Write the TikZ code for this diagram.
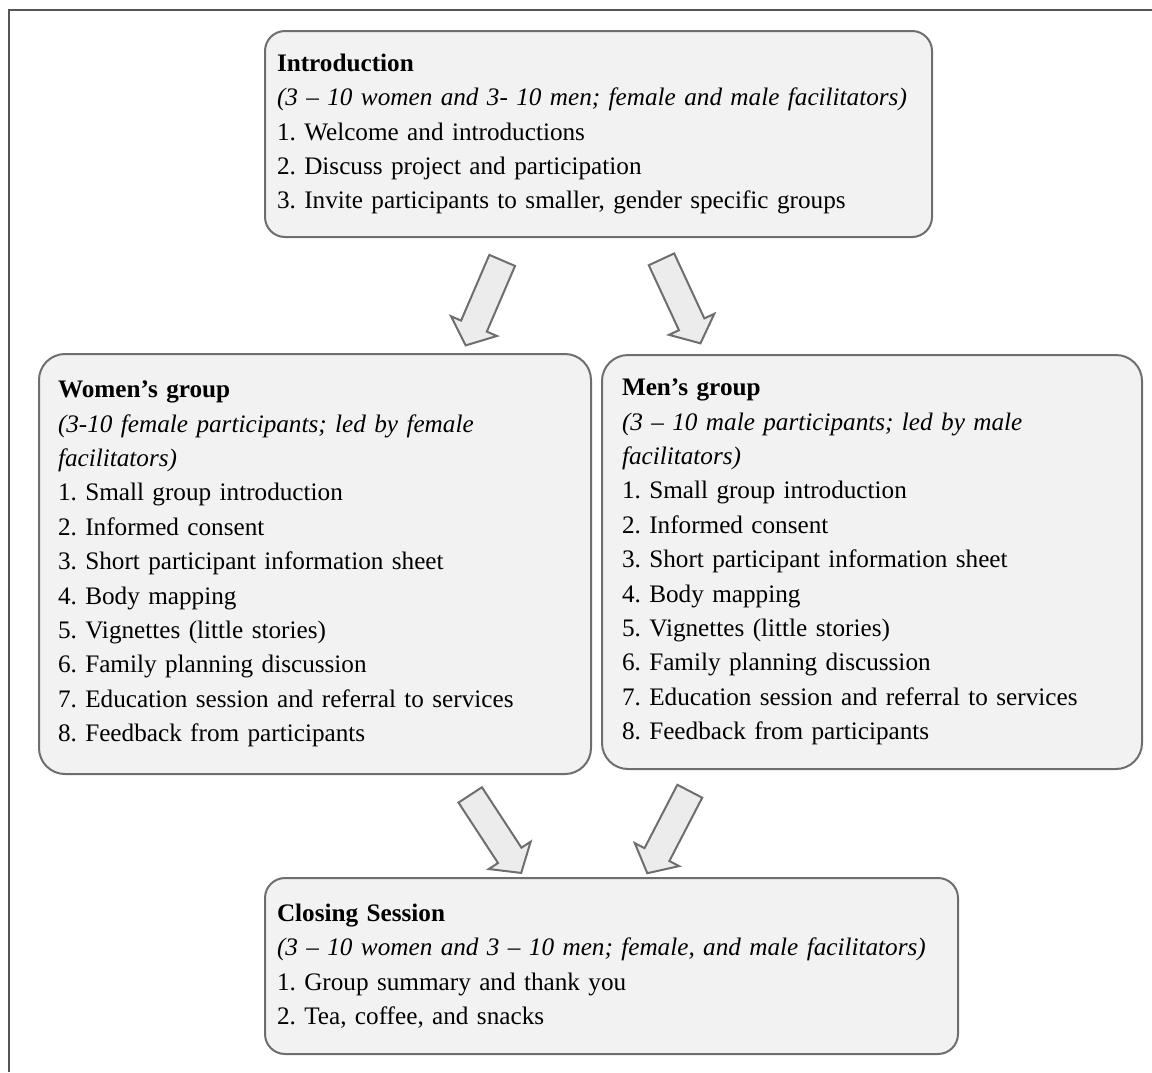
\documentclass[tikz,border=0pt]{standalone}
\usepackage{fontspec}
\setmainfont{Liberation Serif}
\usetikzlibrary{shapes.arrows,calc}
\frenchspacing

\definecolor{boxline}{HTML}{6E6E6E}
\definecolor{boxfill}{HTML}{F2F2F2}
\definecolor{arrowfill}{HTML}{ECECEC}
\definecolor{framegray}{HTML}{555555}

\tikzset{
    stagebox/.style={draw=boxline, fill=boxfill, line width=1pt, anchor=north west,
        align=left, inner ysep=0pt, font=\fontsize{12.6}{17.2}\selectfont},
    bigarrow/.style={single arrow, draw=boxline, fill=arrowfill, line width=1pt,
        inner sep=6.5pt, single arrow head extend=5.5pt, single arrow tip angle=100,
        anchor=center}
}

\newcommand{\flowarrow}[3]{%
    \path let \p1=(#2), \p2=(#3), \n1={atan2(\y2-\y1,\x2-\x1)},
        \n2={veclen(\x2-\x1,\y2-\y1)} in
        node[bigarrow, rotate=\n1, minimum height=\n2] (#1) at ($(#2)!0.5!(#3)$) {};}

\begin{document}
\begin{tikzpicture}[x=0.5pt,y=-0.5pt]
                \useasboundingbox (0,0) rectangle (1152,1072);
                \draw[framegray, line width=1pt]
                    (8.5,1072) -- (8.5,9.5) -- (1152,9.5);

                \node[stagebox, rounded corners=10pt, minimum width=333.5pt, minimum height=103pt,
                      text width=321.5pt, inner xsep=6pt] (intro) at (264,30)
                    {\textbf{Introduction}\\
                     \textit{(3 – 10 women and 3- 10 men; female and male facilitators)}\\
                     1. Welcome and introductions\\
                     2. Discuss project and participation\\
                     3. Invite participants to smaller, gender specific groups};

                \node[stagebox, rounded corners=13pt, minimum width=276pt, minimum height=210pt,
                      text width=257pt, inner xsep=9.5pt] (women) at (38,353)
                    {\textbf{Women’s group}\\
                     \textit{(3-10 female participants; led by female}\\
                     \textit{facilitators)}\\
                     1. Small group introduction\\
                     2. Informed consent\\
                     3. Short participant information sheet\\
                     4. Body mapping\\
                     5. Vignettes (little stories)\\
                     6. Family planning discussion\\
                     7. Education session and referral to services\\
                     8. Feedback from participants};

                \node[stagebox, rounded corners=13pt, minimum width=270pt, minimum height=207pt,
                      text width=250pt, inner xsep=10pt] (men) at (601,354)
                    {\textbf{Men’s group}\\
                     \textit{(3 – 10 male participants; led by male}\\
                     \textit{facilitators)}\\
                     1. Small group introduction\\
                     2. Informed consent\\
                     3. Short participant information sheet\\
                     4. Body mapping\\
                     5. Vignettes (little stories)\\
                     6. Family planning discussion\\
                     7. Education session and referral to services\\
                     8. Feedback from participants};

                \node[stagebox, rounded corners=10pt, minimum width=346.5pt, minimum height=88pt,
                      text width=334.5pt, inner xsep=6pt] (closing) at (264,877)
                    {\textbf{Closing Session}\\
                     \textit{(3 – 10 women and 3 – 10 men; female, and male facilitators)}\\
                     1. Group summary and thank you\\
                     2. Tea, coffee, and snacks};

                \coordinate (introW) at (504.5,255);
                \coordinate (womenN) at (468,340);
                \coordinate (introM) at (659,254);
                \coordinate (menN) at (698,338);
                \coordinate (womenS) at (467,790);
                \coordinate (closingW) at (518,868);
                \coordinate (menS) at (692.5,786);
                \coordinate (closingM) at (650,868);

                \flowarrow{toWomen}{introW}{womenN}
                \flowarrow{toMen}{introM}{menN}
                \flowarrow{fromWomen}{womenS}{closingW}
                \flowarrow{fromMen}{menS}{closingM}
            \end{tikzpicture}
\end{document}
